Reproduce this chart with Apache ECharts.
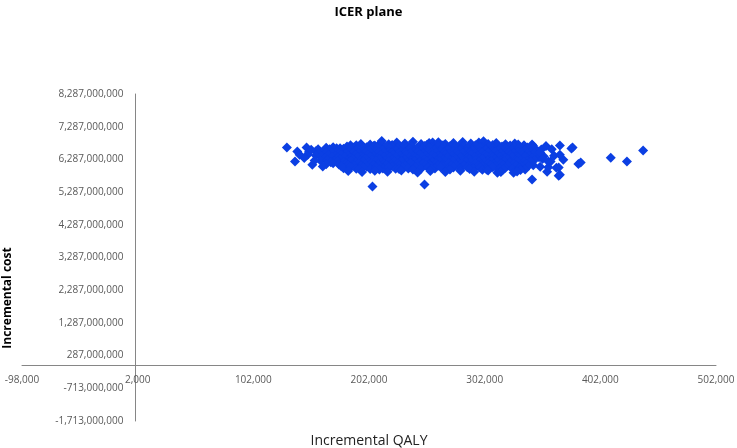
<!DOCTYPE html>
<html>
<head>
<meta charset="utf-8">
<title>ICER plane</title>
<script src="https://cdn.jsdelivr.net/npm/echarts@6/dist/echarts.min.js"></script>
<style>
html, body { margin: 0; padding: 0; background: #fff; }
#chart { width: 737px; height: 448px; }
</style>
</head>
<body>
<div id="chart"></div>
<script>
// tick labels of both axes
const qalyTicks = [-98000, 2000, 102000, 202000, 302000, 402000, 502000];
const costTicks = [-1713000000, -713000000, 287000000, 1287000000, 2287000000,
  3287000000, 4287000000, 5287000000, 6287000000, 7287000000, 8287000000];

// simulation results: [incremental QALY (thousands), incremental cost (millions)]
const simPoints = [
  // top edge
  [186,6720],[195,6760],[203,6740],[212,6790],[213,6850],[219,6750],[226,6800],[233,6770],[240,6830],
  [247,6760],[254,6790],[257,6800],[262,6810],[268,6760],[275,6790],[283,6820],[290,6770],[297,6800],
  [301,6840],[305,6760],[312,6790],[320,6750],[328,6770],[331,6740],[336,6720],[343,6740],[344,6700],
  [191,6720],[207,6710],[222,6730],[238,6720],[252,6730],[266,6720],[281,6730],[294,6720],[309,6730],
  [324,6710],
  // upper band
  [158,6600],[165,6640],[171,6660],[177,6630],[183,6680],[189,6650],[194,6690],[200,6660],[206,6700],
  [211,6650],[217,6690],[222,6670],[228,6700],[234,6660],[239,6690],[245,6650],[250,6700],[256,6670],
  [261,6700],[267,6650],[272,6690],[278,6660],[284,6700],[289,6670],[295,6690],[300,6650],[306,6690],
  [311,6660],[317,6680],[322,6640],[328,6670],[333,6630],[339,6650],[345,6610],[351,6590],
  [174,6630],[186,6640],[197,6630],[209,6640],[220,6630],[231,6640],[243,6630],[254,6640],[265,6630],
  [276,6640],[287,6630],[298,6640],[309,6630],[320,6640],[331,6620],[343,6620],
  [168,6600],[180,6610],[192,6600],[203,6620],[214,6600],[226,6620],[237,6600],[248,6620],[259,6600],
  [270,6620],[281,6600],[292,6620],[303,6600],[315,6620],[326,6600],[337,6600],
  [150,6510],[156,6540],[162,6520],[168,6560],[174,6530],[180,6550],[185,6520],[191,6560],[197,6530],
  [202,6570],[208,6540],[213,6560],[219,6520],[225,6560],[230,6530],[236,6570],[241,6540],[247,6560],
  [253,6520],[258,6560],[264,6530],[270,6570],[275,6540],[281,6560],[286,6520],[292,6560],[298,6530],
  [303,6570],[309,6540],[314,6560],[320,6520],[326,6550],[331,6520],[337,6560],[342,6530],[348,6540],
  [165,6500],[177,6500],[188,6490],[199,6500],[210,6510],[222,6500],[233,6500],[244,6510],[256,6500],
  [267,6500],[278,6510],[289,6500],[300,6500],[311,6510],[323,6500],[334,6500],[345,6490],
  [159,6470],[170,6480],[182,6460],[193,6480],[204,6470],[215,6490],[227,6460],[238,6480],[249,6470],
  [260,6490],[271,6460],[283,6480],[294,6470],[305,6490],[316,6460],[327,6480],[339,6470],[350,6450],
  // middle band
  [156,6410],[161,6380],[167,6420],[173,6390],[178,6430],[184,6400],[190,6420],[195,6380],[201,6430],
  [206,6400],[212,6420],[218,6380],[223,6430],[229,6400],[234,6420],[240,6380],[246,6430],[251,6400],
  [257,6420],[262,6380],[268,6430],[274,6400],[279,6420],[285,6380],[290,6430],[296,6400],[302,6420],
  [307,6380],[313,6430],[318,6400],[324,6420],[329,6380],[335,6420],[341,6390],[347,6410],[353,6380],
  [170,6360],[181,6360],[192,6350],[203,6370],[215,6360],[226,6360],[237,6370],[248,6360],[259,6360],
  [270,6370],[281,6360],[293,6360],[304,6370],[315,6360],[326,6360],[337,6370],[349,6350],
  [164,6330],[175,6340],[186,6320],[197,6340],[209,6330],[220,6350],[231,6320],[242,6340],[253,6330],
  [264,6350],[276,6320],[287,6340],[298,6330],[309,6350],[320,6320],[331,6340],[343,6330],
  [160,6250],[166,6280],[172,6240],[177,6290],[183,6260],[188,6290],[194,6250],[199,6290],[205,6260],
  [211,6290],[216,6250],[222,6290],[227,6260],[233,6290],[238,6250],[244,6290],[250,6260],[255,6290],
  [261,6250],[266,6290],[272,6260],[277,6290],[283,6250],[289,6290],[294,6260],[300,6290],[305,6250],
  [311,6290],[316,6260],[322,6290],[328,6250],[333,6280],[339,6240],[345,6270],
  [175,6230],[186,6230],[197,6220],[208,6240],[219,6230],[230,6230],[241,6240],[252,6230],[263,6230],
  [274,6240],[286,6230],[297,6230],[308,6240],[319,6230],[330,6230],[342,6220],
  [169,6200],[180,6210],[191,6190],[202,6210],[213,6200],[224,6220],[235,6190],[246,6210],[257,6200],
  [268,6220],[279,6190],[290,6210],[302,6200],[313,6220],[324,6190],[336,6210],
  // lower band
  [165,6140],[171,6170],[176,6130],[182,6160],[188,6120],[193,6160],[199,6130],[204,6170],[210,6140],
  [215,6160],[221,6120],[227,6160],[232,6130],[238,6170],[243,6140],[249,6160],[254,6120],[260,6160],
  [266,6130],[271,6170],[277,6140],[282,6160],[288,6120],[294,6160],[299,6130],[305,6170],[310,6140],
  [316,6160],[321,6120],[327,6150],[333,6120],[338,6150],[344,6110],
  [184,6110],[195,6100],[206,6110],[217,6110],[228,6100],[240,6110],[251,6110],[262,6100],[273,6110],
  [284,6110],[296,6100],[307,6110],[318,6110],[329,6100],[340,6090],
  [178,6080],[189,6090],[200,6070],[211,6090],[222,6080],[233,6100],[244,6070],[255,6090],[266,6080],
  [277,6100],[288,6070],[300,6090],[311,6080],[322,6100],[334,6070],
  [180,6020],[186,6050],[191,6000],[197,6040],[203,5990],[208,6040],[214,6010],[219,6050],[225,6000],
  [231,6040],[236,6010],[242,6050],[247,6000],[253,6040],[259,6010],[264,6050],[270,6000],[275,6040],
  [281,6010],[287,6050],[292,6000],[298,6040],[303,6010],[309,6050],[315,6000],[320,6030],[326,5990],
  [332,6020],[337,5980],
  [194,5990],[211,5980],[228,5990],[240,5980],[256,5990],[272,5980],[289,5990],[300,5970],[318,5980],
  [333,5960],
  // bottom edge
  [184,5930],[196,5900],[207,5940],[218,5910],[230,5950],[244,5890],[255,5930],[268,5900],[281,5940],
  [293,5910],[304,5970],[305,5950],[313,5880],[316,5900],[327,5880],[330,5920],
  // left tail
  [131,6650],[148,6650],[140,6530],[142,6430],[138,6220],[149,6430],[153,6120],[162,6070],[146,6330],
  [155,6250],[152,6580],
  // right tail
  [350,6500],[355,6700],[359,6220],[356,5910],[364,6030],[367,6710],[370,6280],[377,6620],[366,5790],
  [383,6150],[343,5670],[411,6340],[425,6220],[439,6560],[352,6300],[360,6600],[357,6050],[362,6400],
  [378,6650],[367,6430],[385,6190],[357,6220],[366,6040],[367,5820],[350,6060],
  // low outliers
  [205,5460],[250,5520]
];

const chart = echarts.init(document.getElementById('chart'));

function withCommas(v) {
  return String(v).replace(/\B(?=(\d{3})+(?!\d))/g, ',');
}

const labelFont = { color: '#595959', fontSize: 10, fontFamily: '"Open Sans", sans-serif' };

// plot box; the axes cross at zero, so they are pulled inside the box with a negative offset
const plotLeft = 22, plotRight = 21, plotTop = 94, plotBottom = 27;
const plotW = 737 - plotLeft - plotRight;
const plotH = 448 - plotTop - plotBottom;
const xMin = qalyTicks[0], xMax = qalyTicks[qalyTicks.length - 1];
const yMin = costTicks[0], yMax = costTicks[costTicks.length - 1];
const yAxisShift = -plotW * (0 - xMin) / (xMax - xMin);
const xAxisShift = -plotH * (0 - yMin) / (yMax - yMin);

const option = {
  animation: false,
  backgroundColor: '#fff',
  title: {
    text: 'ICER plane',
    left: 'center',
    top: 1,
    textStyle: { fontSize: 13, fontWeight: 'bold', color: '#000', fontFamily: '"Open Sans", sans-serif' }
  },
  grid: { left: plotLeft, right: plotRight, top: plotTop, bottom: plotBottom, containLabel: false, outerBoundsMode: 'none' },
  xAxis: {
    type: 'value',
    position: 'bottom',
    offset: xAxisShift,
    min: xMin,
    max: xMax,
    axisLine: { onZero: false, lineStyle: { color: '#868686', width: 1 } },
    axisTick: { show: false },
    splitLine: { show: false },
    axisLabel: Object.assign({ customValues: qalyTicks, margin: 10, formatter: withCommas }, labelFont)
  },
  yAxis: {
    type: 'value',
    position: 'left',
    offset: yAxisShift,
    min: yMin,
    max: yMax,
    axisLine: { show: true, onZero: false, lineStyle: { color: '#868686', width: 1 } },
    axisTick: { show: false },
    splitLine: { show: false },
    axisLabel: Object.assign({ customValues: costTicks, margin: 12, formatter: withCommas }, labelFont)
  },
  graphic: [
    {
      type: 'text',
      x: 369, y: 441,
      style: {
        text: 'Incremental QALY', align: 'center', verticalAlign: 'middle',
        fontSize: 14, fill: '#222', fontFamily: '"Open Sans", sans-serif'
      }
    },
    {
      type: 'text',
      x: 8, y: 298,
      rotation: Math.PI / 2,
      style: {
        text: 'Incremental cost', align: 'center', verticalAlign: 'middle',
        fontSize: 12, fontWeight: 'bold', fill: '#000', fontFamily: '"Open Sans", sans-serif'
      }
    }
  ],
  series: [
    {
      type: 'scatter',
      symbol: 'diamond',
      symbolSize: 10,
      itemStyle: { color: '#0B3FE3', opacity: 1 },
      data: simPoints.map(p => [p[0] * 1000, p[1] * 1000000])
    }
  ]
};

chart.setOption(option);
</script>
</body>
</html>
